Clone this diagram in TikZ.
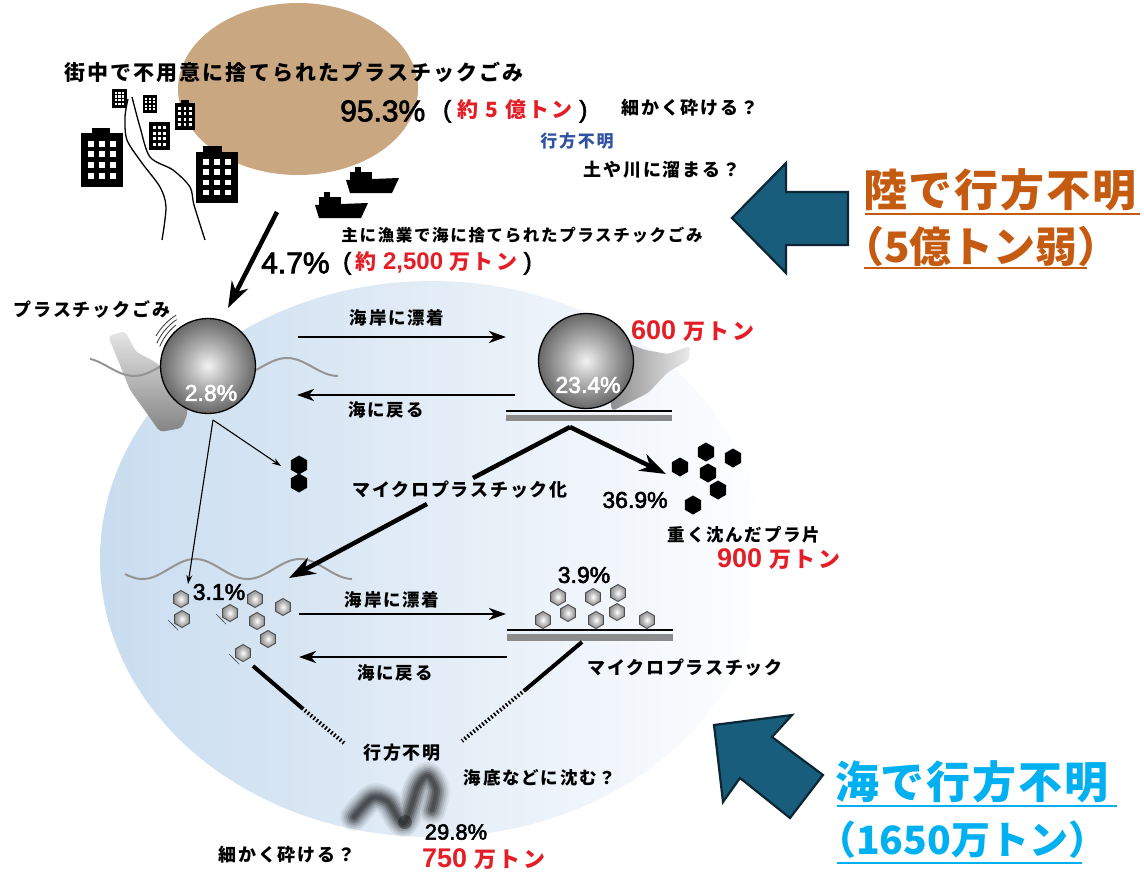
\documentclass[tikz,border=0pt]{standalone}
\usepackage{fontspec}
\setmainfont{Liberation Sans}
\newfontfamily\numfont[FakeBold=2.5]{Liberation Sans}
\newfontfamily\jpfont[LetterSpace=10]{Noto Sans CJK JP}
\newfontfamily\jpwide[LetterSpace=4]{Noto Sans CJK JP}
\newfontfamily\jpnarrow{Noto Sans CJK JP}
\usetikzlibrary{shapes.geometric,arrows.meta}

\definecolor{landtan}{RGB}{201,167,128}
\definecolor{redtxt}{RGB}{228,30,38}
\definecolor{bluetxt}{RGB}{48,82,160}
\definecolor{orangetxt}{RGB}{197,90,17}
\definecolor{cyantxt}{RGB}{0,176,240}
\definecolor{bigarrow}{RGB}{25,93,124}
\definecolor{bigedge}{RGB}{12,38,52}
\definecolor{seaA}{RGB}{176,206,234}
\definecolor{seaB}{RGB}{218,231,244}
\definecolor{seaC}{RGB}{240,245,251}

% shadings for the plastic balls, fragments and the sea disc
\pgfdeclareradialshading{pball}{\pgfpoint{0bp}{0bp}}{color(0bp)=(white!95!black); color(10bp)=(black!28); color(30bp)=(black!70); color(50bp)=(black)}
\pgfdeclareradialshading{hexsh}{\pgfpoint{0bp}{0bp}}{color(0bp)=(white); color(16bp)=(black!30); color(40bp)=(black!62); color(50bp)=(black!70)}
\pgfdeclarehorizontalshading{seash}{100bp}{color(0bp)=(seaA); color(42bp)=(seaB); color(62bp)=(seaC); color(76bp)=(white); color(100bp)=(white)}

% building: x y w h cols rows
\newcommand\bldg[6]{%
  \fill (#1,#2) rectangle ++(#3,#4);
  \pgfmathsetmacro\pw{#3*0.78/#5}
  \pgfmathsetmacro\ph{#4*0.8/#6}
  \foreach \i in {1,...,#5}{\foreach \j in {1,...,#6}{
    \fill[white] ({#1+#3*0.11+\pw*(\i-1)+0.22*\pw},{#2+#4*0.1+\ph*(\j-1)+0.2*\ph}) rectangle ++({0.56*\pw},{0.56*\ph});
  }}%
}
% fishing boat silhouette, top-left corner given
\newcommand\boat[2]{%
  \begin{scope}[shift={(#1,#2)}]
    \fill (0,13) -- (53,11) -- (46,26) -- (4,26) -- cycle;
    \fill (4,5) rectangle (26,14);
    \fill (9,0) rectangle (15,6);
  \end{scope}%
}

\begin{document}
\begin{tikzpicture}[x=1pt,y=-1pt,
  jp/.style={font=\jpfont\bfseries\fontsize{#1}{#1}\selectfont, inner sep=0pt},
  num/.style={font=\numfont\fontsize{#1}{#1}\selectfont, inner sep=0pt},
  pct/.style={font=\numfont\fontsize{#1}{#1}\selectfont, inner sep=0pt, text=white},
  side/.style={font=\jpwide\bfseries\fontsize{#1}{#1}\selectfont, anchor=west, inner sep=0pt},
  sidenum/.style={font=\jpnarrow\bfseries\fontsize{#1}{#1}\selectfont, anchor=west, inner sep=0pt},
  redamt/.style={text=redtxt, anchor=west, inner sep=0pt},
  ball/.style={circle, minimum size=95pt, inner sep=0pt, draw=black, line width=1.3pt, shade, shading=pball},
  ghex/.style={regular polygon, regular polygon sides=6, shape border rotate=30, minimum size=17pt, inner sep=0pt, draw=black!70, line width=0.9pt, shade, shading=hexsh},
  bhex/.style={regular polygon, regular polygon sides=6, shape border rotate=30, minimum size=19pt, inner sep=0pt, fill=black},
  flow/.style={line width=2.6pt, -{Stealth[length=17pt,width=12pt,inset=5pt]}},
  heavy/.style={line width=4.5pt, -{Stealth[length=26pt,width=18pt,inset=8pt]}},
  thin/.style={line width=1.1pt, -{Stealth[length=9pt,width=6pt,inset=3pt]}},
  wave/.style={draw=black!42, line width=2pt},
  bigarr/.style={fill=bigarrow, draw=bigedge, line width=2.2pt, line join=miter},
  ground/.style={line width=2pt},
  groundbar/.style={fill=black!45},
  motion/.style={line width=0.8pt, black!80}
]
\useasboundingbox (0,0) rectangle (1144,873);

% ---------- land ----------
\fill[landtan] (298,89) ellipse [x radius=120, y radius=86];

% rivers
\draw[line width=1.3pt] plot[smooth] coordinates {(128,99) (125,117) (127,140) (142,163) (160,187) (166,207) (162,240)};
\draw[line width=1.3pt] plot[smooth] coordinates {(132,97) (140,127) (150,157) (173,170) (190,187) (194,205) (205,240)};

% buildings
\bldg{112}{89}{15}{19}{3}{4}
\bldg{143}{95}{14}{18}{3}{4}
\bldg{175}{103}{20}{27}{3}{4}
\fill (181,100) rectangle (189,104);
\bldg{149}{122}{21}{28}{3}{4}
\bldg{81}{133}{42}{54}{3}{4}
\fill (92,128) rectangle (110,134);
\bldg{196}{152}{42}{51}{3}{4}
\fill (203,146) rectangle (222,153);

% fishing boats
\boat{346}{167}
\boat{315}{192}

\node[jp=21] (landtitle) at (294,72) {街中で不用意に捨てられたプラスチックごみ};
\node[num=30, anchor=west] (p953) at (340,111) {95.3\%};
\node[anchor=west, inner sep=0pt] (p953t) at (443,111) {{\numfont\fontsize{24}{24}\selectfont (\ }{\jpfont\bfseries\fontsize{21}{21}\selectfont\color{redtxt}約 5 億トン}{\numfont\fontsize{24}{24}\selectfont\ )}};
\node[jp=18] (frag1) at (690,108) {細かく砕ける？};
\node[jp=17, text=bluetxt] (lost1) at (577,141) {行方不明};
\node[jp=18] (soil) at (662,170) {土や川に溜まる？};

\node[jp=16.5] (seatitle) at (522,235) {主に漁業で海に捨てられたプラスチックごみ};
\node[num=30, anchor=west] (p47) at (261,263) {4.7\%};
\node[anchor=west, inner sep=0pt] (p47t) at (343,263) {{\numfont\fontsize{24}{24}\selectfont (\,}{\color{redtxt}{\jpfont\bfseries\fontsize{21}{21}\selectfont 約 }{\bfseries\fontsize{24}{24}\selectfont 2,500 }{\jpfont\bfseries\fontsize{21}{21}\selectfont 万トン}}{\numfont\fontsize{24}{24}\selectfont\ )}};

% ---------- sea ----------
\path[shade, shading=seash] (432,559) ellipse [x radius=332, y radius=278];

% bottle behind the floating ball
\path[shade, top color=black!10, bottom color=black!48, rounded corners=4pt]
  (108,336) -- (125,331) -- (136,352) -- (152,360) -- (180,380) -- (188,412) -- (182,428) -- (160,432) -- (148,415) -- (130,390) -- (120,365) -- cycle;
% bottle shadow behind the beached ball
\path[shade, left color=black!50, right color=black!8, rounded corners=3pt]
  (600,332) -- (645,350) -- (668,354) -- (690,346) -- (689,360) -- (668,372) -- (648,393) -- (612,411) -- cycle;

% sea surface waves
\draw[wave] plot[domain=90:338, samples=90] (\x, {367-9*cos((\x-287)/102*360)});
\draw[wave] plot[domain=125:352, samples=90] (\x, {569-10*cos((\x-300)/105*360)});

\node[jp=18] (plastic) at (92,310) {プラスチックごみ};

% plastic pieces (large)
\node[ball] (floatball) at (208,366) {};
\node[ball] (beachball) at (586,361) {};
\node[pct=23] (p28) at (211,393) {2.8\%};
\node[pct=23] (p234) at (588,385) {23.4\%};
\foreach \r/\a/\b in {52/128/158, 56/124/156, 60/122/150}
  \draw[motion] plot[domain=\a:\b, samples=12] ({208+\r*cos(\x)},{366-\r*sin(\x)});

% beach (top)
\draw[ground] (506,411) -- (672,411);
\fill[groundbar] (506,415) rectangle (672,421);

\node[redamt] (t600) at (631,331) {{\bfseries\fontsize{27}{27}\selectfont 600 }{\jpfont\bfseries\fontsize{22}{22}\selectfont 万トン}};

% top flows
\coordinate (s1) at (298,337); \coordinate (e1) at (506,337);
\coordinate (s2) at (515,395); \coordinate (e2) at (297,395);
\draw[flow] (s1) -- (e1);
\draw[flow] (s2) -- (e2);
\node[jp=17.5] (ashore1) at (397,318) {海岸に漂着};
\node[jp=17.5] (back1) at (386,410) {海に戻る};

% arrow from the land
\coordinate (lfrom) at (277,212); \coordinate (lto) at (228,308);
\draw[heavy] (lfrom) -- (lto);

% fragmentation fork
\coordinate (apex) at (570,427);
\coordinate (legL) at (473,478);
\coordinate (legR) at (666,474);
\coordinate (low1) at (427,504);
\coordinate (low2) at (289,578);
\draw[line width=4.5pt, line join=miter] (legL) -- (apex);
\draw[heavy] (apex) -- (legR);
\draw[heavy] (low1) -- (low2);
\node[jp=18] (micro1) at (460,490) {マイクロプラスチック化};

% thin arrows from the floating ball
\coordinate (tb) at (213,420);
\coordinate (tb1) at (281,466);
\coordinate (tb2) at (188,584);
\draw[thin] (tb) -- (tb1);
\draw[thin] (tb) -- (tb2);
\node[bhex] (h1) at (299,465) {};
\node[bhex] (h2) at (299,483) {};

% sunk fragments
\foreach \x/\y [count=\k] in {680/467, 706/452, 733/458, 708/473, 718/490, 693/505}
  \node[bhex] (sk\k) at (\x,\y) {};
\node[num=23] (p369) at (635,500) {36.9\%};
\node[jp=17.5] (heavyfr) at (744,535) {重く沈んだプラ片};
\node[redamt] (t900) at (717,559) {{\bfseries\fontsize{27}{27}\selectfont 900 }{\jpfont\bfseries\fontsize{22}{22}\selectfont 万トン}};

% microplastics floating
\foreach \x/\y [count=\k] in {181/599, 182/619, 230/613, 255/599, 257/621, 268/639, 283/607, 243/653}
  \node[ghex] (mf\k) at (\x,\y) {};
\foreach \cx/\cy in {182/619, 230/613, 243/653}
  \foreach \o in {0,2.6,5.2}
    \draw[line width=0.6pt, black!70] ({\cx-14+\o},{\cy+1+\o}) -- ({\cx-9+\o},{\cy+6+\o});
\node[num=23] (p31) at (219,592) {3.1\%};

% microplastics on the beach
\foreach \x/\y [count=\k] in {558/597, 593/597, 618/593, 568/613, 617/612, 543/620, 596/620, 647/620}
  \node[ghex] (mb\k) at (\x,\y) {};
\draw[ground] (507,630) -- (673,630);
\fill[groundbar] (507,634) rectangle (673,641);
\node[num=23] (p39) at (584,575) {3.9\%};

% lower flows
\coordinate (s3) at (299,614); \coordinate (e3) at (506,614);
\coordinate (s4) at (507,657); \coordinate (e4) at (299,657);
\draw[flow] (s3) -- (e3);
\draw[flow] (s4) -- (e4);
\node[jp=17.5] (ashore2) at (392,600) {海岸に漂着};
\node[jp=17.5] (back2) at (395,673) {海に戻る};
\node[jp=18] (micro2) at (685,668) {マイクロプラスチック};

% paths to the unknown
\coordinate (uL0) at (253,666); \coordinate (uL1) at (302,708); \coordinate (uL2) at (344,743);
\coordinate (uR0) at (582,642); \coordinate (uR1) at (525,690); \coordinate (uR2) at (462,741);
\draw[line width=4pt] (uL0) -- (uL1);
\draw[line width=4pt, dash pattern=on 1.6pt off 2.2pt] (uL1) -- (uL2);
\draw[line width=4pt] (uR0) -- (uR1);
\draw[line width=4pt, dash pattern=on 1.6pt off 2.2pt] (uR1) -- (uR2);
\node[jp=18] (lost2) at (402,753) {行方不明};
\node[jp=17.5] (seabed) at (540,778) {海底などに沈む？};

% blurred squiggle
\foreach \w/\o in {28/0.06, 24/0.08, 20/0.1, 16/0.14, 12/0.18, 8/0.22, 4/0.2}
  \draw[line width=\w pt, opacity=\o, line cap=round, line join=round]
    plot[smooth] coordinates {(354,817) (372,798) (388,802) (404,823) (418,786) (428,776) (436,790) (432,810)};
\fill[black, opacity=0.3] (405,822) circle[radius=7pt];

\node[num=22] (p298) at (456,832) {29.8\%};
\node[redamt] (t750) at (422,859) {{\bfseries\fontsize{27}{27}\selectfont 750 }{\jpfont\bfseries\fontsize{22}{22}\selectfont 万トン}};
\node[jp=18] (frag2) at (287,855) {細かく砕ける？};

% ---------- side callouts ----------
\draw[bigarr] (732,218) -- (786,163) -- (786,192) -- (848,192) -- (848,245) -- (786,245) -- (786,273) -- cycle;
\node[side=44, text=orangetxt] (landlost) at (863,190) {陸で行方不明};
\node[sidenum=42, text=orangetxt] (landamt) at (842,247) {（5億トン弱）};
\draw[orangetxt, line width=2pt] (865,214) -- (1140,214);
\draw[orangetxt, line width=2pt] (864,268) -- (1087,268);

\draw[bigarr] (714,725) -- (792,715) -- (772,737) -- (823,775) -- (790,818) -- (740,778) -- (723,802) -- cycle;
\node[side=44, text=cyantxt] (sealost) at (835,782) {海で行方不明};
\node[sidenum=39, text=cyantxt] (seaamt) at (817,840) {（1650万トン）};
\draw[cyantxt, line width=2pt] (837,806) -- (1117,806);
\draw[cyantxt, line width=2pt] (837,863) -- (1082,863);
\end{tikzpicture}
\end{document}
